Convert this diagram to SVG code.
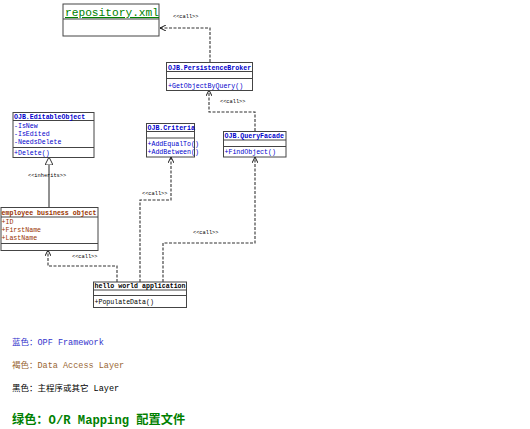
<svg xmlns="http://www.w3.org/2000/svg" width="530" height="429" viewBox="0 0 530 429">
<defs>
<style>
.box{fill:#fff;stroke:#444;stroke-width:1}
.sep{stroke:#444;stroke-width:1}
.t{font-family:"Liberation Mono","DejaVu Sans Mono",monospace;font-size:6.6px}
.h{font-weight:bold}
.blue{fill:#0000cc}
.brown{fill:#993300}
.blk{fill:#000}
.lbl{font-family:"Liberation Mono","DejaVu Sans Mono",monospace;font-size:5.3px;fill:#000}
.con{fill:none;stroke:#333;stroke-width:1.1;stroke-dasharray:3,1.5}
.leg{font-family:"Liberation Mono","Noto Sans CJK SC",monospace;font-size:8.5px}
</style>
<marker id="arr" viewBox="0 0 10 10" refX="10" refY="5" markerWidth="6" markerHeight="6" markerUnits="userSpaceOnUse" orient="auto">
<path d="M0,0 L10,5 L0,10" fill="none" stroke="#000" stroke-width="1.5"/>
</marker>
<marker id="tri" viewBox="0 0 10 10" refX="10" refY="5" markerWidth="8" markerHeight="8" markerUnits="userSpaceOnUse" orient="auto">
<path d="M0,0 L10,5 L0,10 Z" fill="#fff" stroke="#000" stroke-width="1"/>
</marker>
</defs>
<rect width="530" height="429" fill="#fff"/>

<g id="connectors">
<path class="con" d="M210,62 V28 H160" marker-end="url(#arr)"/>
<path class="con" d="M255,131 V112 H209 V90" marker-end="url(#arr)"/>
<path class="con" d="M140,282 V200 H171 V157" marker-end="url(#arr)"/>
<path class="con" d="M163,282 V243 H255 V157" marker-end="url(#arr)"/>
<path class="con" d="M117,282 V266 H48 V250" marker-end="url(#arr)"/>
<path d="M49,207 V157" fill="none" stroke="#222" stroke-width="1" marker-end="url(#tri)"/>
<text class="lbl" x="173" y="18">&lt;&lt;call&gt;&gt;</text>
<text class="lbl" x="220" y="103">&lt;&lt;call&gt;&gt;</text>
<text class="lbl" x="142" y="195">&lt;&lt;call&gt;&gt;</text>
<text class="lbl" x="193" y="234">&lt;&lt;call&gt;&gt;</text>
<text class="lbl" x="72" y="258">&lt;&lt;call&gt;&gt;</text>
<text class="lbl" x="28" y="177">&lt;&lt;inherits&gt;&gt;</text>
</g>

<g id="repository">
<rect class="box" x="63" y="4" width="96" height="32" stroke="#666"/>
<line class="sep" x1="63" y1="19" x2="159" y2="19"/>
<text x="65" y="16" font-family="Liberation Mono,DejaVu Sans Mono,monospace" font-size="11.2" fill="#008000" text-decoration="underline">repository.xml</text>
</g>

<g id="persistencebroker">
<rect class="box" x="166.5" y="62.5" width="86" height="28"/>
<line class="sep" x1="166.5" y1="71.5" x2="252.5" y2="71.5"/>
<line class="sep" x1="166.5" y1="78.5" x2="252.5" y2="78.5"/>
<text class="t h blue" x="168" y="69.5">OJB.PersistenceBroker</text>
<text class="t blue" x="168" y="87.5">+GetObjectByQuery()</text>
</g>

<g id="editableobject">
<rect class="box" x="13" y="112.5" width="81" height="45"/>
<line class="sep" x1="13" y1="120.5" x2="94" y2="120.5"/>
<line class="sep" x1="13" y1="147.5" x2="94" y2="147.5"/>
<text class="t h blue" x="14" y="118.5">OJB.EditableObject</text>
<text class="t blue" x="14" y="128">-IsNew</text>
<text class="t blue" x="14" y="136">-IsEdited</text>
<text class="t blue" x="14" y="144">-NeedsDelete</text>
<text class="t blue" x="14" y="154.5">+Delete()</text>
</g>

<g id="criteria">
<rect class="box" x="146.5" y="123.5" width="48" height="33.5"/>
<line class="sep" x1="146.5" y1="131.5" x2="194.5" y2="131.5"/>
<line class="sep" x1="146.5" y1="138" x2="194.5" y2="138"/>
<text class="t h blue" x="147.5" y="129.5">OJB.Criteria</text>
<text class="t blue" x="147.5" y="145.5">+AddEqualTo()</text>
<text class="t blue" x="147.5" y="154">+AddBetween()</text>
</g>

<g id="queryfacade">
<rect class="box" x="223.5" y="131.5" width="62.5" height="25.5"/>
<line class="sep" x1="223.5" y1="140" x2="286" y2="140"/>
<line class="sep" x1="223.5" y1="146.5" x2="286" y2="146.5"/>
<text class="t h blue" x="224.5" y="138">OJB.QueryFacade</text>
<text class="t blue" x="224.5" y="154">+FindObject()</text>
</g>

<g id="employee">
<rect class="box" x="1" y="207.5" width="97" height="43"/>
<line class="sep" x1="1" y1="217" x2="98" y2="217"/>
<line class="sep" x1="1" y1="243.5" x2="98" y2="243.5"/>
<text class="t h brown" x="1.5" y="214.5">employee business object</text>
<text class="t brown" x="1.5" y="224">+ID</text>
<text class="t brown" x="1.5" y="232">+FirstName</text>
<text class="t brown" x="1.5" y="240">+LastName</text>
</g>

<g id="helloworld">
<rect class="box" x="93.5" y="282" width="93" height="25.5"/>
<line class="sep" x1="93.5" y1="290" x2="186.5" y2="290"/>
<line class="sep" x1="93.5" y1="295.5" x2="186.5" y2="295.5"/>
<text class="t h blk" x="94.5" y="288">hello world application</text>
<text class="t blk" x="94.5" y="303.5">+PopulateData()</text>
</g>

<g id="legend">
<text class="leg" x="12" y="345" fill="#3333cc">蓝色：OPF Framework</text>
<text class="leg" x="12" y="368" fill="#996633">褐色：Data Access Layer</text>
<text class="leg" x="12" y="391" fill="#000">黑色：主程序或其它 Layer</text>
<text x="12" y="424" font-family="Liberation Mono,Noto Sans CJK SC,monospace" font-size="12.2" font-weight="bold" fill="#008000">绿色：O/R Mapping 配置文件</text>
</g>
</svg>
